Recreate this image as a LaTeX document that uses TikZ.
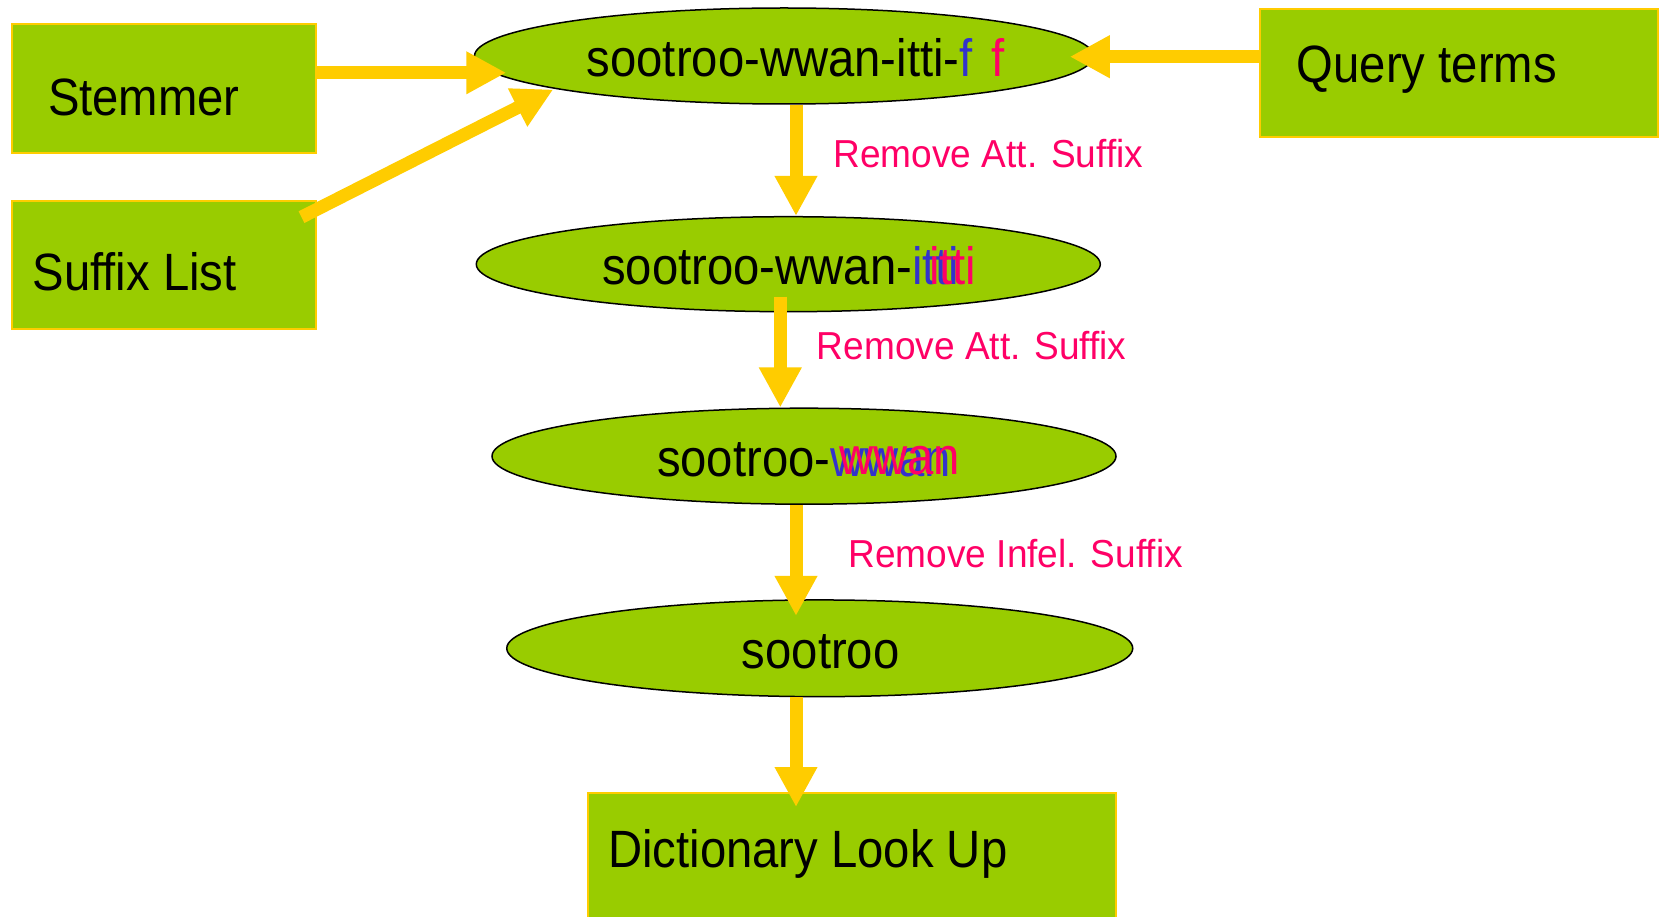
\documentclass[tikz,border=0pt]{standalone}
\usepackage{fontspec}
\setmainfont[FakeStretch=0.9]{Liberation Sans}
\newfontfamily\lblfont[FakeStretch=0.95]{Liberation Sans}
\usetikzlibrary{arrows.meta,shapes.geometric}
\definecolor{cgreen}{HTML}{99CC00}
\definecolor{cyel}{HTML}{FFCC00}
\definecolor{cpink}{HTML}{FF0066}
\definecolor{cblue}{HTML}{3333CC}
\begin{document}
\begin{tikzpicture}[x=1pt,y=-1pt,
  box/.style={draw=cyel,fill=cgreen,line width=2pt,rectangle,inner sep=0pt},
  ell/.style={draw=black,fill=cgreen,line width=1.5pt,ellipse,inner sep=0pt},
  arr/.style={draw=cyel,line width=13pt,-{Triangle[width=40pt,length=40pt]}},
  txt/.style={inner sep=0pt,anchor=base west,font=\fontsize{52.5pt}{60pt}\selectfont},
  lbl/.style={inner sep=0pt,anchor=base west,text=cpink,font=\lblfont\fontsize{39pt}{45pt}\selectfont}]
\useasboundingbox[fill=white] (0,0) rectangle (1660,917);
% boxes
\node[box,minimum width=304.5pt,minimum height=128.3pt] (stem) at (163.75,88.5) {};
\node[box,minimum width=304.5pt,minimum height=128.3pt] (suf) at (163.75,264.85) {};
\node[box,minimum width=398pt,minimum height=127.7pt] (query) at (1459,72.85) {};
\node[box,minimum width=528.4pt,minimum height=140pt] (dict) at (851.8,863) {};
% ellipses
\node[ell,minimum width=619pt,minimum height=96pt] (e1) at (784,56) {};
\node[ell,minimum width=624pt,minimum height=95pt] (e2) at (788.3,264.2) {};
\node[ell,minimum width=624pt,minimum height=96pt] (e3) at (804,456.2) {};
\node[ell,minimum width=626pt,minimum height=96.7pt] (e4) at (819.75,648.3) {};
% connectors
\draw[arr] (stem.east |- 0,72.8) -- ([shift={(32.5,16.8)}]e1.west);
\draw[arr] ([shift={(-15.5,-47.7)}]suf.east) -- ([shift={(79.5,33.5)}]e1.west);
\draw[arr] (query.west |- 0,56.7) -- ([shift={(-24.5,0.7)}]e1.east);
\draw[arr] (e1.south -| 796,0) -- (e2.north -| 796,0);
\draw[arr] ([shift={(-8,32.5)}]e2.center) -- (e3.north -| 780.3,0);
\draw[arr] (e3.south -| 796,0) -- ([yshift=-16.7pt]e4.north -| 796,0);
\draw[arr] (e4.south -| 796,0) -- ([yshift=-15pt]dict.north -| 796,0);
% texts
\node[txt] (tstem) at (47.8,116) {Stemmer};
\node[txt] (tsuf) at (32.5,291) {Suffix List};
\node[txt] (tquery) at (1296.7,83) {Query terms};
\node[txt] (tdict) at (608,867) {Dictionary Look Up};
\node[txt] (t1) at (586.5,76.5) {sootroo-wwan-itti-\textcolor{cblue}{f}\kern19pt\textcolor{cpink}{f}};
\node[txt] (t2) at (602,285) {sootroo-wwan-\rlap{\textcolor{cblue}{itti}}\kern17pt\textcolor{cpink}{itti}};
\node[txt] (t3) at (656.8,476) {sootroo-\rlap{\textcolor{cblue}{wwan}}\kern9pt\raisebox{2pt}{\textcolor{cpink}{wwan}}};
\node[txt] (t4) at (741.7,668.3) {sootroo};
\node[lbl] (l1) at (833.3,167.7) {Remove Att. Suffix};
\node[lbl] (l2) at (816.7,359.3) {Remove Att. Suffix};
\node[lbl] (l3) at (848.3,567.7) {Remove Infel. Suffix};
\end{tikzpicture}
\end{document}
